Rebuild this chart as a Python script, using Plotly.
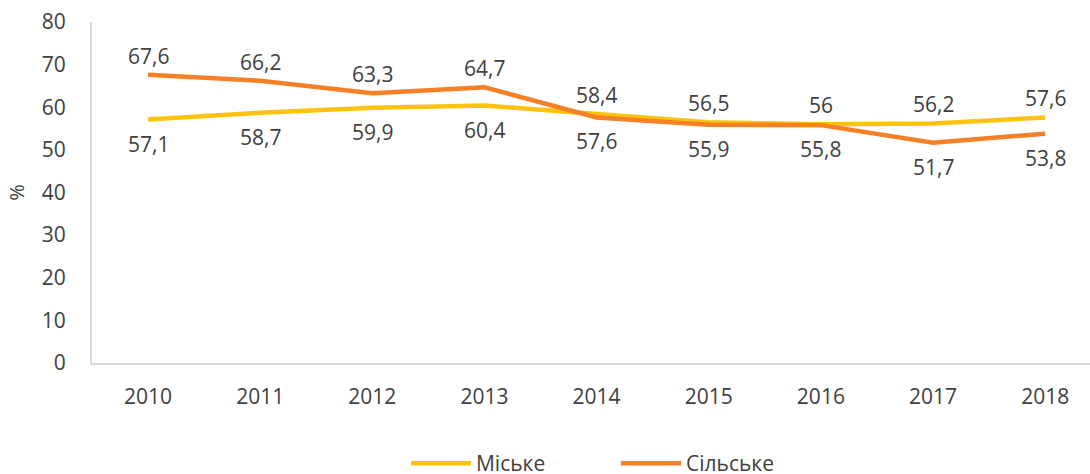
import plotly.graph_objects as go

# дані
years = ['2010', '2011', '2012', '2013', '2014', '2015', '2016', '2017', '2018']
misjke = [57.1, 58.7, 59.9, 60.4, 58.4, 56.5, 56.0, 56.2, 57.6]
silske = [67.6, 66.2, 63.3, 64.7, 57.6, 55.9, 55.8, 51.7, 53.8]
y_ticks = [0, 10, 20, 30, 40, 50, 60, 70, 80]

# підписи: +1 над лінією, -1 під лінією
side_m = [-1] * 4 + [1] * 5
side_s = [1] * 4 + [-1] * 5


def fmt(v):
    return f'{v:g}'.replace('.', ',')


font_main = 'Open Sans'
grey = '#404040'

fig = go.Figure()
fig.add_trace(go.Scatter(x=years, y=misjke, name='Міське', mode='lines',
                         line=dict(color='#FFC20E', width=4.5)))
fig.add_trace(go.Scatter(x=years, y=silske, name='Сільське', mode='lines',
                         line=dict(color='#F58025', width=4.5)))

# на категорійній осі x задаємо індексом
for vals, sides in [(misjke, side_m), (silske, side_s)]:
    for i, (v, s) in enumerate(zip(vals, sides)):
        fig.add_annotation(x=i, y=v, text=fmt(v), showarrow=False,
                           yshift=19 if s > 0 else -24,
                           font=dict(family=font_main, size=21, color=grey))

# фігура трохи вища за вікно, легенда внизу обрізається як в оригіналі
fig.update_layout(
    width=1090, height=490,
    margin=dict(l=92, r=0, t=22, b=127),
    plot_bgcolor='white', paper_bgcolor='white',
    font=dict(family=font_main, size=21, color=grey),
    showlegend=True,
    legend=dict(orientation='h', x=0.525, xanchor='center', y=-0.295, yanchor='middle',
                font=dict(size=21, color=grey), itemwidth=60, entrywidth=135),
    xaxis=dict(type='category', range=[-0.5, 8.4], showgrid=False, showline=True,
               linecolor='#D9D9D9', linewidth=2, ticks='', ticklabelstandoff=14,
               automargin=False),
    yaxis=dict(range=[0, 80], tickvals=y_ticks, showgrid=False, showline=True,
               linecolor='#D9D9D9', linewidth=2, ticks='', ticklabelstandoff=20,
               zeroline=False, automargin=False,
               title=dict(text='%', font=dict(size=20), standoff=12)),
)

fig.write_html("out.html", config={'displayModeBar': False},
               post_script="document.body.style.margin='0';document.body.style.overflow='hidden';")
